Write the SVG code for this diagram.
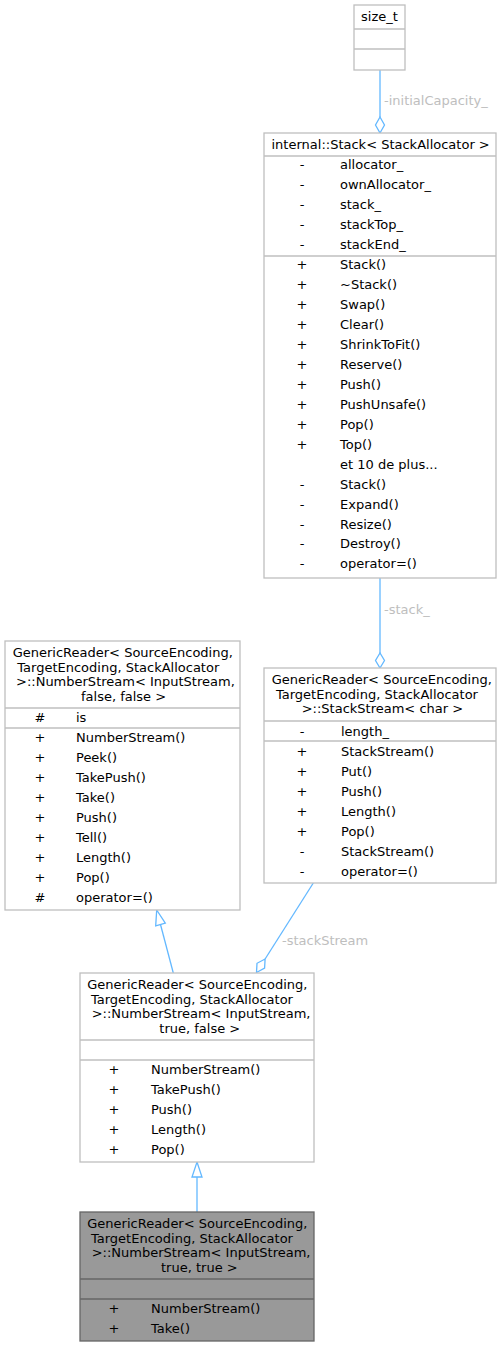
<svg xmlns="http://www.w3.org/2000/svg" width="501" height="1347" viewBox="0 0 501 1347">
<style>
text{font-family:"DejaVu Sans","Liberation Sans",sans-serif;font-size:13px;fill:#000}
.box{fill:#fff;stroke:#bfbfbf;stroke-width:1.3}
.boxh{fill:#999999;stroke:#666666;stroke-width:1.3}
.sep{stroke:#bfbfbf;stroke-width:1.3}
.seph{stroke:#666666;stroke-width:1.3}
.s{text-anchor:middle}
.m{text-anchor:middle}
.edge{fill:none;stroke:#63b8ff;stroke-width:1.3}
.head{fill:#fff;stroke:#63b8ff;stroke-width:1.3}
.lbl{fill:#bebebe}
</style>
<rect width="501" height="1347" fill="#fff"/>
<g id="connectors">
  <path class="edge" d="M380,70 V117"/>
  <polygon class="head" points="380,133 384.5,125 380,117 375.5,125"/>
  <text class="lbl" x="384" y="105">-initialCapacity_</text>
  <path class="edge" d="M380,578 V653"/>
  <polygon class="head" points="380,668 384.5,660.5 380,653 375.5,660.5"/>
  <text class="lbl" x="384" y="614">-stack_</text>
  <path class="edge" d="M313.3,883 L265.1,959"/>
  <polygon class="head" points="256.5,972.5 264.6,968.1 265.1,959 257,963.3"/>
  <text class="lbl" x="282" y="945">-stackStream</text>
  <path class="edge" d="M173.3,973 L160.5,924.5"/>
  <polygon class="head" points="156.7,910 165.3,923.2 155.7,925.8"/>
  <path class="edge" d="M197,1212 V1177"/>
  <polygon class="head" points="197,1162 202,1177 192,1177"/>
</g>
<g id="node_size_t">
  <rect class="box" x="354" y="5" width="51" height="65"/>
  <line class="sep" x1="354" y1="29" x2="405" y2="29"/>
  <line class="sep" x1="354" y1="49" x2="405" y2="49"/>
  <text class="m" x="379.5" y="21">size_t</text>
</g>
<g id="node_stack">
  <rect class="box" x="264" y="133" width="232" height="445"/>
  <line class="sep" x1="264" y1="156" x2="496" y2="156"/>
  <line class="sep" x1="264" y1="256" x2="496" y2="256"/>
  <text x="271.5" y="149">internal::Stack&lt; StackAllocator &gt;</text>
  <text class="s" x="302" y="169">-</text><text x="340" y="169">allocator_</text>
  <text class="s" x="302" y="189">-</text><text x="340" y="189">ownAllocator_</text>
  <text class="s" x="302" y="209">-</text><text x="340" y="209">stack_</text>
  <text class="s" x="302" y="229">-</text><text x="340" y="229">stackTop_</text>
  <text class="s" x="302" y="249">-</text><text x="340" y="249">stackEnd_</text>
  <text class="s" x="302" y="269">+</text><text x="340" y="269">Stack()</text>
  <text class="s" x="302" y="289">+</text><text x="340" y="289">~Stack()</text>
  <text class="s" x="302" y="309">+</text><text x="340" y="309">Swap()</text>
  <text class="s" x="302" y="329">+</text><text x="340" y="329">Clear()</text>
  <text class="s" x="302" y="349">+</text><text x="340" y="349">ShrinkToFit()</text>
  <text class="s" x="302" y="369">+</text><text x="340" y="369">Reserve()</text>
  <text class="s" x="302" y="389">+</text><text x="340" y="389">Push()</text>
  <text class="s" x="302" y="409">+</text><text x="340" y="409">PushUnsafe()</text>
  <text class="s" x="302" y="429">+</text><text x="340" y="429">Pop()</text>
  <text class="s" x="302" y="449">+</text><text x="340" y="449">Top()</text>
  <text x="340" y="469">et 10 de plus...</text>
  <text class="s" x="302" y="489">-</text><text x="340" y="489">Stack()</text>
  <text class="s" x="302" y="508.5">-</text><text x="340" y="508.5">Expand()</text>
  <text class="s" x="302" y="528.5">-</text><text x="340" y="528.5">Resize()</text>
  <text class="s" x="302" y="548">-</text><text x="340" y="548">Destroy()</text>
  <text class="s" x="302" y="568">-</text><text x="340" y="568">operator=()</text>
</g>
<g id="node_numberstream_ff">
  <rect class="box" x="5" y="641" width="235" height="269"/>
  <line class="sep" x1="5" y1="708" x2="240" y2="708"/>
  <line class="sep" x1="5" y1="728" x2="240" y2="728"/>
  <text x="12.7" y="657">GenericReader&lt; SourceEncoding,</text>
  <text x="17.3" y="671.5">TargetEncoding, StackAllocator</text>
  <text x="16" y="686">&gt;::NumberStream&lt; InputStream,</text>
  <text x="81" y="700.5">false, false &gt;</text>
  <text class="s" x="40" y="722">#</text><text x="76" y="722">is</text>
  <text class="s" x="40" y="742">+</text><text x="76" y="742">NumberStream()</text>
  <text class="s" x="40" y="762">+</text><text x="76" y="762">Peek()</text>
  <text class="s" x="40" y="782">+</text><text x="76" y="782">TakePush()</text>
  <text class="s" x="40" y="802">+</text><text x="76" y="802">Take()</text>
  <text class="s" x="40" y="822">+</text><text x="76" y="822">Push()</text>
  <text class="s" x="40" y="842">+</text><text x="76" y="842">Tell()</text>
  <text class="s" x="40" y="862">+</text><text x="76" y="862">Length()</text>
  <text class="s" x="40" y="882">+</text><text x="76" y="882">Pop()</text>
  <text class="s" x="40" y="902">#</text><text x="76" y="902">operator=()</text>
</g>
<g id="node_stackstream">
  <rect class="box" x="264" y="668" width="232" height="215"/>
  <line class="sep" x1="264" y1="721" x2="496" y2="721"/>
  <line class="sep" x1="264" y1="741" x2="496" y2="741"/>
  <text x="271.7" y="684">GenericReader&lt; SourceEncoding,</text>
  <text x="276" y="698.5">TargetEncoding, StackAllocator</text>
  <text x="301.7" y="713">&gt;::StackStream&lt; char &gt;</text>
  <text class="s" x="302" y="735.5">-</text><text x="341" y="735.5">length_</text>
  <text class="s" x="302" y="755.5">+</text><text x="341" y="755.5">StackStream()</text>
  <text class="s" x="302" y="775.5">+</text><text x="341" y="775.5">Put()</text>
  <text class="s" x="302" y="795.5">+</text><text x="341" y="795.5">Push()</text>
  <text class="s" x="302" y="815.5">+</text><text x="341" y="815.5">Length()</text>
  <text class="s" x="302" y="835.5">+</text><text x="341" y="835.5">Pop()</text>
  <text class="s" x="302" y="855.5">-</text><text x="341" y="855.5">StackStream()</text>
  <text class="s" x="302" y="875.5">-</text><text x="341" y="875.5">operator=()</text>
</g>
<g id="node_numberstream_tf">
  <rect class="box" x="80" y="973" width="234" height="189"/>
  <line class="sep" x1="80" y1="1040" x2="314" y2="1040"/>
  <line class="sep" x1="80" y1="1060" x2="314" y2="1060"/>
  <text x="87.3" y="989">GenericReader&lt; SourceEncoding,</text>
  <text x="91" y="1003.5">TargetEncoding, StackAllocator</text>
  <text x="91.7" y="1018">&gt;::NumberStream&lt; InputStream,</text>
  <text x="159.3" y="1032.5">true, false &gt;</text>
  <text class="s" x="114" y="1073.5">+</text><text x="151" y="1073.5">NumberStream()</text>
  <text class="s" x="114" y="1093.5">+</text><text x="151" y="1093.5">TakePush()</text>
  <text class="s" x="114" y="1113.5">+</text><text x="151" y="1113.5">Push()</text>
  <text class="s" x="114" y="1133.5">+</text><text x="151" y="1133.5">Length()</text>
  <text class="s" x="114" y="1153.5">+</text><text x="151" y="1153.5">Pop()</text>
</g>
<g id="node_numberstream_tt">
  <rect class="boxh" x="80" y="1212" width="234" height="129"/>
  <line class="seph" x1="80" y1="1279" x2="314" y2="1279"/>
  <line class="seph" x1="80" y1="1299" x2="314" y2="1299"/>
  <text x="87.3" y="1228">GenericReader&lt; SourceEncoding,</text>
  <text x="91" y="1242.5">TargetEncoding, StackAllocator</text>
  <text x="91.7" y="1257">&gt;::NumberStream&lt; InputStream,</text>
  <text x="161" y="1271.5">true, true &gt;</text>
  <text class="s" x="114" y="1313">+</text><text x="151" y="1313">NumberStream()</text>
  <text class="s" x="114" y="1333">+</text><text x="151" y="1333">Take()</text>
</g>
</svg>
